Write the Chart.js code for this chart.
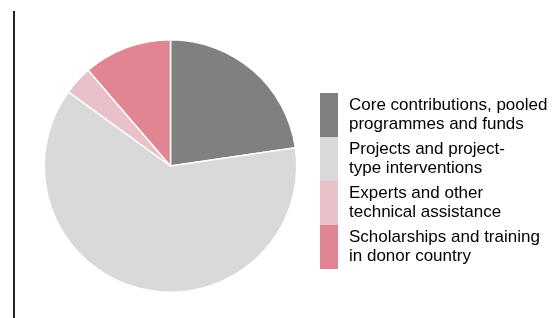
<!DOCTYPE html>
<html>
<head>
<meta charset="utf-8">
<script src="https://cdn.jsdelivr.net/npm/chart.js@4"></script>
<style>
  html, body { margin: 0; padding: 0; background: #fff; }
  #wrap { width: 558px; height: 318px; }
</style>
</head>
<body>
<div id="wrap"><canvas id="myChart" width="558" height="318"></canvas></div>
<script>
const categories = [
  ['Core contributions, pooled', 'programmes and funds'],
  ['Projects and project-', 'type interventions'],
  ['Experts and other', 'technical assistance'],
  ['Scholarships and training', 'in donor country']
];
const shares = [22.7, 62.3, 3.7, 11.3];
const colors = ['#808080', '#d9d9d9', '#ebc1c9', '#e08592'];

// vertical rule at left + multi-line legend with stacked swatches
const sideLegend = {
  id: 'sideLegend',
  afterDraw(chart) {
    const c = chart.ctx;
    c.save();
    c.fillStyle = '#222';
    c.fillRect(13, 11, 2, 307);

    const boxX = 320, boxW = 18, boxH = 44, top = 93, lineH = 19;
    c.font = '17px "Liberation Sans", Arial, sans-serif';
    c.textBaseline = 'middle';
    categories.forEach((lines, i) => {
      const y = top + i * boxH;
      c.fillStyle = colors[i];
      c.fillRect(boxX, y, boxW, boxH);
      c.fillStyle = '#000';
      const mid = y + boxH / 2;
      lines.forEach((t, j) => {
        c.fillText(t, 349, mid + (j - (lines.length - 1) / 2) * lineH);
      });
    });
    c.restore();
  }
};

new Chart(document.getElementById('myChart'), {
  type: 'pie',
  data: {
    labels: categories.map(l => l.join(' ')),
    datasets: [{
      data: shares,
      backgroundColor: colors,
      borderColor: '#fff',
      borderWidth: 1.5
    }]
  },
  options: {
    responsive: false,
    animation: false,
    layout: { padding: { left: 43, right: 260, top: 39, bottom: 25 } },
    plugins: {
      legend: { display: false },
      tooltip: { enabled: false }
    }
  },
  plugins: [sideLegend]
});
</script>
</body>
</html>
